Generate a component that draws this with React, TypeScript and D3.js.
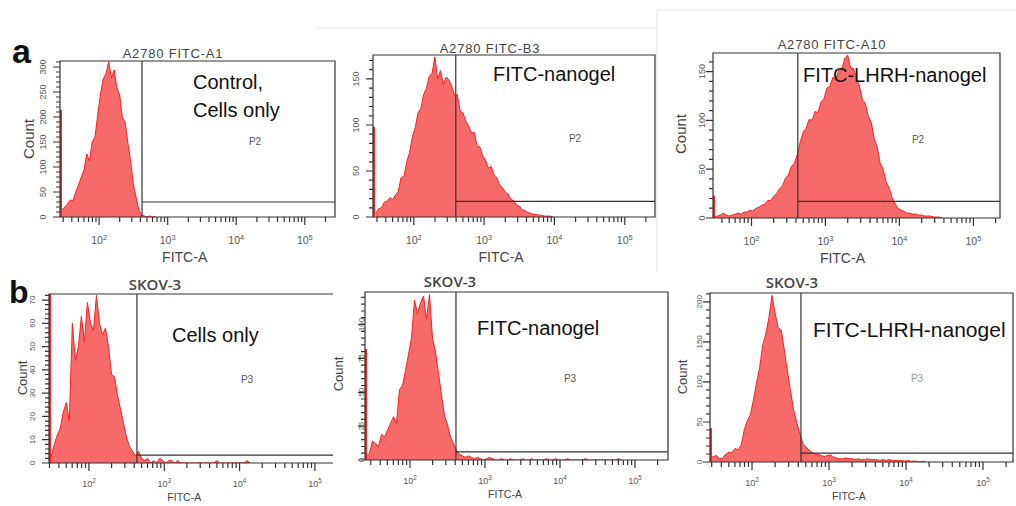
import * as d3 from "d3";

// panel text
const panelTitles = ["A2780 FITC-A1", "A2780 FITC-B3", "A2780 FITC-A10", "SKOV-3", "SKOV-3", "SKOV-3"];
const sampleLabels = [["Control,", "Cells only"], ["FITC-nanogel"], ["FITC-LHRH-nanogel"], ["Cells only"], ["FITC-nanogel"], ["FITC-LHRH-nanogel"]];
const gateNames = ["P2", "P2", "P2", "P3", "P3", "P3"];
const rowLetters = ["a", "b"];

// axes
const xLogDomain = [[1.43, 5.44], [1.42, 5.43], [1.48, 5.36], [1.47, 5.24], [1.40, 5.44], [1.455, 5.39]];
const xDecades = [2, 3, 4, 5];
const yMax = [312, 176, 169, 72.6, 124, 211];
const yMajorStep = [50, 50, 50, 10, 25, 50];
const yMinorStep = [10, 10, 10, 2, 5, 10];

// gates (log10 position of the P gate, and its count level)
const gateLog = [2.626, 2.597, 2.627, 2.637, 2.613, 2.636];
const gateLevel = [30, 17, 17, 3.4, 6, 11];

// histograms: counts per bin of 0.04 decade, first bin at histStart
const binStep = 0.04;
const histStart = [1.46, 1.46, 1.46, 1.46, 1.42, 1.46];
const edgeCounts = [214, 98, 23, 73, 82, 42];
const histA1 = [14, 20, 26, 34, 33, 50, 64, 80, 94, 126, 112, 150, 160, 204, 246, 276, 286, 311, 278, 294, 258, 244, 198, 190, 148, 112, 64, 40, 14, 4, 2, 0, 2, 0, 1];
const histA2 = [4, 9, 10, 16, 17, 21, 19, 24, 28, 43, 44, 60, 70, 87, 97, 113, 118, 133, 140, 153, 156, 174, 150, 159, 144, 152, 149, 142, 132, 133, 115, 113, 104, 99, 91, 92, 77, 76, 66, 62, 53, 55, 46, 43, 35, 32, 27, 25, 19, 18, 13, 12, 8, 7, 5, 4, 3, 3, 2, 2, 1, 1, 1, 0];
const histA3 = [3, 1, 2, 3, 5, 3, 2, 3, 4, 5, 4, 6, 6, 8, 7, 10, 11, 13, 14, 18, 18, 22, 25, 30, 33, 41, 44, 53, 56, 65, 78, 88, 92, 101, 100, 109, 108, 119, 122, 133, 135, 144, 142, 151, 152, 163, 167, 154, 153, 143, 135, 121, 117, 104, 98, 81, 73, 56, 50, 37, 31, 21, 15, 10, 8, 7, 5, 5, 4, 4, 3, 3, 2, 2, 2, 1, 1, 1, 0];
const histB1 = [1, 3, 8, 12, 15, 22, 26, 18, 60, 44, 50, 63, 52, 69, 60, 57, 72, 60, 55, 58, 50, 38, 37, 29, 23, 17, 11, 7, 5, 3, 5, 2, 1, 2, 0, 1, 0, 2, 1, 0, 1, 1, 0, 1, 0, 0, 0, 0, 0, 0, 0, 0, 0, 0, 0, 0, 1, 0, 0, 0, 0, 0, 0, 0, 0, 0, 1, 0];
const histB2 = [3, 5, 14, 12, 10, 19, 17, 22, 27, 32, 27, 52, 55, 66, 78, 90, 118, 108, 116, 121, 104, 122, 90, 80, 64, 48, 33, 26, 17, 12, 7, 4, 3, 2, 3, 2, 1, 2, 1, 0, 1, 2, 1, 0, 0, 1, 0, 0, 1, 0, 0, 0, 1, 0, 0, 1, 0, 0, 0, 0, 1, 0, 0, 1, 0, 0, 0, 1, 0, 0, 0, 0, 0, 1, 0, 0, 0, 0, 0, 0, 0, 0, 0, 0, 1, 0];
const histB3 = [5, 7, 8, 4, 5, 10, 12, 12, 17, 15, 21, 40, 52, 59, 78, 99, 118, 146, 160, 180, 208, 186, 168, 165, 140, 114, 89, 66, 50, 36, 23, 19, 15, 12, 10, 10, 8, 7, 8, 9, 6, 5, 4, 4, 5, 4, 4, 3, 4, 3, 3, 4, 3, 3, 3, 2, 3, 2, 3, 2, 2, 2, 2, 1, 2, 1, 1, 1, 0, 1, 0];
const hists = [histA1, histA2, histA3, histB1, histB2, histB3];

// layout
const boxes = [
  { x0: 60, x1: 335, y0: 61, y1: 217, right: true },
  { x0: 373, x1: 655, y0: 55, y1: 217, right: true },
  { x0: 713, x1: 1000, y0: 53, y1: 218, right: true },
  { x0: 49, x1: 333, y0: 294, y1: 463, right: false },
  { x0: 365, x1: 668, y0: 292, y1: 460, right: true },
  { x0: 710, x1: 1013, y0: 293, y1: 462, right: true },
];
const titlePos = [[173, 58], [490, 53], [832, 49], [155, 290], [450, 287], [792, 288]];
const labelPos = [[193, 89], [493, 81], [803, 82], [172, 342], [477, 335], [813, 337]];
const pPos = [[255, 141], [575, 138], [918, 139], [247, 379], [570, 378], [917, 378]];
const countPos = [[28, 139], null, [680, 134], [22, 378], [338, 374], [682, 377]];
const yLabOffset = [17, 17, 11, 17, 4, 11];

const font = "'Liberation Sans', Arial, sans-serif";
const RED = "#ff1f1f";
const FILL = "#f76a6a";
const INK = "#333";

function Panel({ i }: { i: number }) {
  const b = boxes[i];
  const top = i < 3;
  const x = d3.scaleLog().domain([10 ** xLogDomain[i][0], 10 ** xLogDomain[i][1]]).range([b.x0, b.x1]);
  const y = d3.scaleLinear().domain([0, yMax[i]]).range([b.y1, b.y0]);
  const pts: [number, number][] = hists[i].map((c, k) => [x(10 ** (histStart[i] + binStep * k)), y(c)]);
  const area = d3.area<[number, number]>().x((d) => d[0]).y0(b.y1).y1((d) => d[1]);
  const line = d3.line<[number, number]>();

  const [dLo, dHi] = x.domain();
  const minors: number[] = [];
  for (let d = 1; d <= 5; d++) for (let k = 2; k <= 9; k++) {
    const v = k * 10 ** d;
    if (v > dLo && v < dHi) minors.push(v);
  }
  const yTicks = d3.range(0, yMax[i] + 0.001, yMinorStep[i]);
  const yLabels = d3.range(0, yMax[i] + 0.001, yMajorStep[i]);
  const isMajor = (v: number) => yLabels.some((l) => Math.abs(l - v) < 1e-6);
  const r = (v: number) => (Math.round(v * 10) / 10).toFixed(1);

  // frame plus axis ticks in one path
  let framePath = `M${b.x1},${b.y0}H${b.x0}V${b.y1}H${b.x1}` + (b.right ? "Z" : "");
  minors.forEach((v) => { framePath += `M${r(x(v))},${b.y1}V${b.y1 + 5}`; });
  xDecades.forEach((d) => { framePath += `M${r(x(10 ** d))},${b.y1}V${b.y1 + 8}`; });
  yTicks.forEach((v) => { framePath += `M${b.x0},${r(y(v))}H${b.x0 - (isMajor(v) ? 7 : 4)}`; });

  const gx = x(10 ** gateLog[i]);
  const tickFs = top ? 10.5 : 9;
  const tickY = b.y1 + (top ? 27 : 24);
  const clipId = `clip${i}`;

  return (
    <g>
      <defs>
        <clipPath id={clipId}>
          <rect x={b.x0} y={b.y0} width={b.x1 - b.x0} height={b.y1 - b.y0} />
        </clipPath>
      </defs>
      <g clipPath={`url(#${clipId})`}>
        <path d={area(pts) || ""} fill={FILL} />
        <path d={line(pts) || ""} fill="none" stroke={RED} strokeWidth={1} />
        <line x1={b.x0 + 1} x2={b.x0 + 1} y1={b.y1} y2={y(edgeCounts[i])} stroke={RED} strokeWidth={2} />
      </g>
      <path d={framePath} fill="none" stroke={INK} strokeWidth={1.2} />
      {/* gate */}
      <line x1={gx} x2={gx} y1={b.y0} y2={b.y1} stroke={INK} strokeWidth={1.2} />
      <line x1={gx} x2={b.x1} y1={y(gateLevel[i])} y2={y(gateLevel[i])} stroke={INK} strokeWidth={1.2} />
      {xDecades.map((d) => (
        <text key={"t" + d} x={x(10 ** d)} y={tickY} textAnchor="middle" fontSize={tickFs} fill="#555" fontFamily={font}>
          10<tspan dy={-4} fontSize={tickFs * 0.7}>{d}</tspan>
        </text>
      ))}
      <text x={(x(10 ** 2) + x(10 ** 4)) / 2 + (top ? 17 : 20)} y={b.y1 + (top ? 45 : 38)} textAnchor="middle"
        fontSize={top ? 14 : 10.5} fill="#444" fontFamily={font}>FITC-A</text>
      {yLabels.map((v) => (
        <text key={"yl" + v} transform={`translate(${b.x0 - yLabOffset[i]},${y(v)}) rotate(-90)`}
          textAnchor="middle" dominantBaseline="central" fontSize={top ? 9 : 8} fill="#555" fontFamily={font}>{v}</text>
      ))}
      {countPos[i] && (
        <text transform={`translate(${countPos[i]![0]},${countPos[i]![1]}) rotate(-90)`} textAnchor="middle"
          dominantBaseline="central" fontSize={top ? 15 : 13} fill="#444" fontFamily={font}>Count</text>
      )}
      {/* title */}
      <text x={titlePos[i][0]} y={titlePos[i][1]} textAnchor="middle" fontSize={top ? 13 : 15}
        letterSpacing={top ? 0.8 : 0} fill="#444"
        fontFamily={top ? font : "'Open Sans', sans-serif"} fontWeight={top ? 400 : 600}>{panelTitles[i]}</text>
      {/* sample label */}
      {sampleLabels[i].map((s, k) => (
        <text key={s} x={labelPos[i][0]} y={labelPos[i][1] + k * 28} fontSize={i === 5 ? 21 : 20} fill="#111"
          fontFamily={font}>{s}</text>
      ))}
      <text x={pPos[i][0]} y={pPos[i][1]} textAnchor="middle" dominantBaseline="central" fontSize={10}
        fill={i === 5 ? "#999" : "#555"} fontFamily={font}>{gateNames[i]}</text>
    </g>
  );
}

export default function App() {
  return (
    <svg width={1016} height={506} style={{ position: "absolute", left: 0, top: 0, background: "#fff" }}>
      <rect width={1016} height={506} fill="#fff" />
      {/* faint scan borders */}
      <path d="M315,28H657M657,10V272M657,10H1016" fill="none" stroke="#e6e6e6" strokeWidth={1} />
      {d3.range(6).map((i) => <Panel key={i} i={i} />)}
      {rowLetters.map((l, k) => (
        <text key={l} x={k === 0 ? 12 : 9} y={k === 0 ? 63 : 303} fontSize={k === 0 ? 34 : 32} fontWeight={700}
          fill="#111" fontFamily={font}>{l}</text>
      ))}
    </svg>
  );
}
